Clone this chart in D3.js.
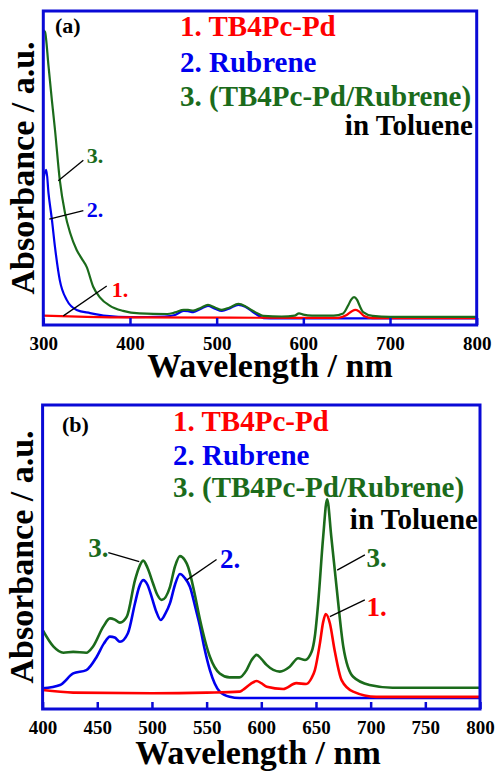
<!DOCTYPE html>
<html><head><meta charset="utf-8">
<script src="https://cdn.jsdelivr.net/npm/d3@7"></script>
<style>
html,body{margin:0;padding:0;background:#fff;}
svg{display:block;}
</style></head>
<body>
<svg id="chart" width="495" height="772"></svg>
<script>
// ---------- DATA ----------
// Panel (a): 300–800 nm
const aRedNm   = [300,350,400,600,640,650,656,660,664,670,680,800];
const aRedAbs  = [0.030,0.026,0.024,0.023,0.023,0.032,0.044,0.048,0.044,0.029,0.022,0.022];
const aBlueNm  = [300,302,303.5,306,310,313.5,319,327,338.5,354,373,400,440,452,462,467,473,482,490,498,506,515,525,533,540,548,554,570,800];
const aBlueAbs = [0.462,0.487,0.494,0.420,0.334,0.248,0.143,0.080,0.048,0.038,0.029,0.025,0.027,0.032,0.045,0.044,0.041,0.052,0.061,0.052,0.045,0.053,0.064,0.058,0.045,0.030,0.022,0.021,0.021];
const aGreenNm  = [300,302,306,310,313.5,319,325,331,338.5,344,350,357.7,365,377,392,411,443,452,462,467,473,482,490,498,506,515,525,533,540,548,554,575,590,595,600,610,635,646,652,655,658.5,662,665,669,680,700,800];
const aGreenAbs = [0.939,0.933,0.825,0.713,0.621,0.462,0.357,0.293,0.239,0.213,0.185,0.121,0.089,0.061,0.045,0.037,0.035,0.040,0.048,0.048,0.046,0.055,0.064,0.056,0.048,0.056,0.067,0.060,0.048,0.036,0.029,0.027,0.030,0.037,0.033,0.030,0.030,0.037,0.064,0.080,0.089,0.080,0.061,0.041,0.029,0.026,0.026];

// Panel (b): 400–800 nm
const bRedNm   = [400,428,500,550,580,583,590,595.7,600,605,620,632,641,646,649,653.6,656.5,659,662.7,667,673.4,684,705,800];
const bRedAbs  = [0.0625,0.054,0.052,0.054,0.057,0.0625,0.082,0.092,0.085,0.073,0.066,0.085,0.082,0.102,0.128,0.216,0.285,0.3125,0.282,0.194,0.095,0.057,0.040,0.040];
const bBlueNm  = [400,416,428,440,449.5,456,461.6,466,470.7,478,484.5,488,492,496,499.7,504,508,512,516.5,521,525.6,530,534.7,540,544,548,553,562,571,580,600,800];
const bBlueAbs = [0.068,0.079,0.117,0.128,0.172,0.215,0.238,0.235,0.221,0.249,0.348,0.398,0.424,0.408,0.369,0.320,0.293,0.312,0.348,0.408,0.444,0.431,0.402,0.330,0.271,0.200,0.128,0.057,0.040,0.036,0.036,0.036];
const bGreenNm  = [400,410,419,428,440,446,455.5,461.6,466,470.7,477,484.5,488,492,496,501,505,509,516.5,521,525.6,530,533,539,544,553,562,571,580,586.5,591,595.7,600,604.8,617,626,633.7,640,646,649,652,656.6,660.2,664,668.8,675,684,699,720,800];
const bGreenAbs = [0.260,0.205,0.185,0.188,0.185,0.205,0.271,0.298,0.294,0.284,0.304,0.424,0.464,0.488,0.464,0.413,0.375,0.359,0.402,0.468,0.503,0.490,0.468,0.380,0.293,0.172,0.117,0.104,0.104,0.128,0.160,0.178,0.165,0.145,0.123,0.139,0.167,0.161,0.188,0.240,0.348,0.567,0.690,0.567,0.402,0.205,0.106,0.079,0.070,0.070];

const aTicks = [300,400,500,600,700,800];
const bTicks = [400,450,500,550,600,650,700,750,800];

const legendLabels = ["1. TB4Pc-Pd","2. Rubrene","3. (TB4Pc-Pd/Rubrene)"];
const legendNote = "in Toluene";

// annotation callouts (data coordinates): [label, textNm, textAbs, fromNm, fromAbs, toNm, toAbs, series]
const aNotes = [
  ["3.",350,0.515,346.2,0.525,317.3,0.459,2],
  ["2.",350,0.344,346.2,0.364,306.9,0.337,1],
  ["1.",378.9,0.090,373.2,0.124,323.1,0.029,0]
];
const bNotes = [
  ["3.",441.8,0.499,460.1,0.514,488.4,0.485,2],
  ["2.",562.2,0.463,559.1,0.492,531.7,0.424,1],
  ["3.",696.3,0.468,694.7,0.507,669.4,0.457,2],
  ["1.",696.3,0.307,694.7,0.359,662.7,0.304,0]
];

// ---------- STYLE ----------
const colors = ["#ff0000","#0000ee","#1b6b1b"];
const frameColor = "#0a0ad6";
const FONT = "Liberation Serif, Times New Roman, serif";

const svg = d3.select("#chart");
const root = svg.append("g").attr("font-family",FONT).attr("font-weight","bold");

function panel(cfg){
  const g = root.append("g");
  const x = d3.scaleLinear().domain(cfg.xDomain).range([cfg.left, cfg.right]);
  const y = d3.scaleLinear().domain([0,1]).range([cfg.bottom, cfg.top]);
  const clipId = "clip"+cfg.id;
  svg.append("clipPath").attr("id",clipId).append("rect")
    .attr("x",cfg.left).attr("y",cfg.top).attr("width",cfg.right-cfg.left).attr("height",cfg.bottom-cfg.top);

  const line = d3.line().x(d=>x(d[0])).y(d=>y(d[1])).curve(d3.curveMonotoneX);
  // draw order: blue, red, green (green on top)
  [1,0,2].forEach(i=>{
    const s = cfg.series[i];
    g.append("path").attr("clip-path","url(#"+clipId+")")
      .datum(d3.zip(s[0],s[1]))
      .attr("d",line).attr("fill","none")
      .attr("stroke",colors[i]).attr("stroke-width",cfg.lw)
      .attr("stroke-linejoin","round");
  });
  // frame
  g.append("rect").attr("x",cfg.left).attr("y",cfg.top)
    .attr("width",cfg.right-cfg.left).attr("height",cfg.bottom-cfg.top)
    .attr("fill","none").attr("stroke",frameColor).attr("stroke-width",3);

  // x axis
  const ax = g.append("g").attr("transform","translate(0,"+cfg.bottom+")")
    .call(d3.axisBottom(x).tickValues(cfg.ticks).tickSizeInner(-7).tickSizeOuter(0).tickFormat(d3.format("d")));
  ax.attr("font-family",FONT).attr("font-size",19).attr("font-weight","bold");
  ax.select(".domain").remove();
  ax.selectAll(".tick line").attr("stroke",frameColor).attr("stroke-width",2.5);
  ax.selectAll(".tick text").attr("y",25).attr("dy",0).attr("fill","#000");

  // axis titles
  g.append("text").attr("x",cfg.xTitleX).attr("y",cfg.xTitleY).attr("text-anchor","middle")
    .attr("font-size",34).text("Wavelength / nm");
  g.append("text").attr("transform","translate("+cfg.yTitleX+","+((cfg.top+cfg.bottom)/2)+") rotate(-90)")
    .attr("text-anchor","middle").attr("font-size",34).text("Absorbance / a.u.");

  // panel tag
  g.append("text").attr("x",cfg.tagX).attr("y",cfg.tagY).attr("font-size",22).text(cfg.tag);

  // legend
  legendLabels.forEach((t,i)=>{
    g.append("text").attr("x",cfg.legX).attr("y",cfg.legY[i]).attr("font-size",29)
      .attr("fill",colors[i]).text(t);
  });
  g.append("text").attr("x",cfg.noteX).attr("y",cfg.legY[3]).attr("font-size",29)
    .attr("text-anchor","end").attr("fill","#000").text(legendNote);

  // callouts
  cfg.notes.forEach(n=>{
    g.append("line").attr("x1",x(n[3])).attr("y1",y(n[4])).attr("x2",x(n[5])).attr("y2",y(n[6]))
      .attr("stroke","#000").attr("stroke-width",1.3);
    g.append("text").attr("x",x(n[1])).attr("y",y(n[2])).attr("font-size",cfg.noteFs)
      .attr("fill",colors[n[7]]).text(n[0]);
  });
}

panel({id:"a", xDomain:[300,800], left:43.3, right:476.7, top:11, bottom:325, lw:2.2,
  series:[[aRedNm,aRedAbs],[aBlueNm,aBlueAbs],[aGreenNm,aGreenAbs]],
  ticks:aTicks, xTitleX:270, xTitleY:377, yTitleX:34, tag:"(a)", tagX:55, tagY:33,
  legX:180, legY:[36,71.5,106,135], noteX:473, notes:aNotes, noteFs:22});

panel({id:"b", xDomain:[400,800], left:42.6, right:480, top:405, bottom:709, lw:2.6,
  series:[[bRedNm,bRedAbs],[bBlueNm,bBlueAbs],[bGreenNm,bGreenAbs]],
  ticks:bTicks, xTitleX:258, xTitleY:764, yTitleX:33, tag:"(b)", tagX:62, tagY:432,
  legX:173, legY:[430.7,465,496.7,529.3], noteX:478, notes:bNotes, noteFs:27});
</script>
</body></html>
